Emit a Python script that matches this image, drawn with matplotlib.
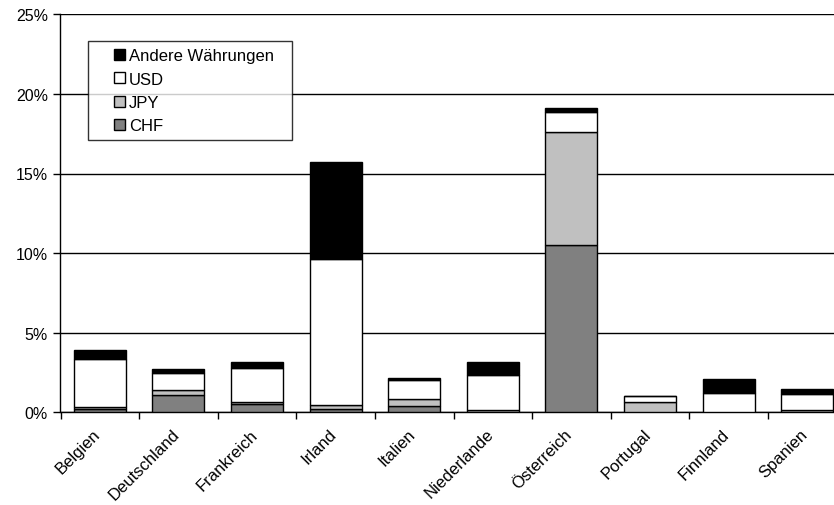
import numpy as np
import matplotlib.pyplot as plt
from matplotlib.ticker import FuncFormatter, FixedLocator
from matplotlib.legend_handler import HandlerPatch
from matplotlib.patches import Rectangle
from matplotlib.transforms import ScaledTranslation

plt.rcParams['font.family'] = ['Liberation Sans', 'DejaVu Sans']

laender = ['Belgien', 'Deutschland', 'Frankreich', 'Irland', 'Italien',
           'Niederlande', 'Österreich', 'Portugal', 'Finnland', 'Spanien']
chf = [0.20, 1.10, 0.55, 0.20, 0.40, 0.05, 10.50, 0.02, 0.02, 0.05]
jpy = [0.12, 0.30, 0.12, 0.25, 0.45, 0.12, 7.10, 0.65, 0.03, 0.07]
usd = [3.00, 1.07, 2.10, 9.20, 1.20, 2.20, 1.25, 0.33, 1.15, 1.00]
andere = [0.60, 0.23, 0.37, 6.05, 0.12, 0.80, 0.25, 0.05, 0.87, 0.37]

serien = [('CHF', chf, '#808080'), ('JPY', jpy, '#c0c0c0'),
          ('USD', usd, '#ffffff'), ('Andere Währungen', andere, '#000000')]

W, H = 834, 506
fig = plt.figure(figsize=(W / 100, H / 100), dpi=100)
# rechter Rand liegt etwas ausserhalb des Bildes
ax = fig.add_axes([60.5 / W, 1 - 413.3 / H, 786 / W, 398 / H])

x = np.arange(len(laender))
unten = np.zeros(len(laender))
balken = {}
for name, werte, farbe in serien:
    balken[name] = ax.bar(x, werte, 0.66, bottom=unten, color=farbe,
                          edgecolor='black', linewidth=1.0, zorder=3, label=name)
    unten += np.array(werte)

# Gitterlinien alle 5 %
ax.set_ylim(0, 25)
ax.set_yticks(np.arange(0, 26, 5))
ax.yaxis.set_major_formatter(FuncFormatter(lambda v, p: '%d%%' % v))
ax.grid(axis='y', color='black', linewidth=1.0, zorder=0)
ax.set_xlim(-0.5, len(laender) - 0.5)

ax.spines['top'].set_visible(False)
ax.spines['right'].set_visible(False)
ax.spines['left'].set_linewidth(1.0)
ax.spines['bottom'].set_linewidth(1.0)

# Beschriftung mittig, Teilstriche zwischen den Kategorien
ax.set_xticks(x)
ax.set_xticklabels(laender, rotation=45, ha='right', rotation_mode='anchor')
ax.tick_params(axis='x', which='major', length=0, labelsize=12, pad=10)
versatz = ScaledTranslation(-7 / 100, 0, fig.dpi_scale_trans)
for lbl in ax.get_xticklabels():
    lbl.set_transform(lbl.get_transform() + versatz)
ax.xaxis.set_minor_locator(FixedLocator(np.arange(-0.5, len(laender), 1.0)))
ax.tick_params(axis='x', which='minor', length=5, width=1, direction='out')
ax.tick_params(axis='y', length=5, width=1, direction='out', labelsize=11.5, pad=4)


# kleines Quadrat rechts im Platz des Symbols
def quadrat(legend, orig_handle, xdescent, ydescent, width, height, fontsize):
    s = 0.66 * fontsize
    return Rectangle((-xdescent + width - s, -ydescent + (height - s) / 2), s, s)


namen = ['Andere Währungen', 'USD', 'JPY', 'CHF']
handles = [balken[n].patches[0] for n in namen]
leg = ax.legend(handles, namen, loc='upper left', mode='expand',
                bbox_to_anchor=(27.5 / 786, 0.5, 204 / 786, 1 - 27 / 398 - 0.5),
                fontsize=12, frameon=True, fancybox=False,
                handler_map={Rectangle: HandlerPatch(patch_func=quadrat)},
                handlelength=1.8, handleheight=0.7, handletextpad=0.25,
                labelspacing=0.5, borderpad=0.42, borderaxespad=0)
leg.get_frame().set_edgecolor('black')
leg.get_frame().set_linewidth(1.0)
leg.set_zorder(5)

fig.savefig('out.png', dpi=100)
